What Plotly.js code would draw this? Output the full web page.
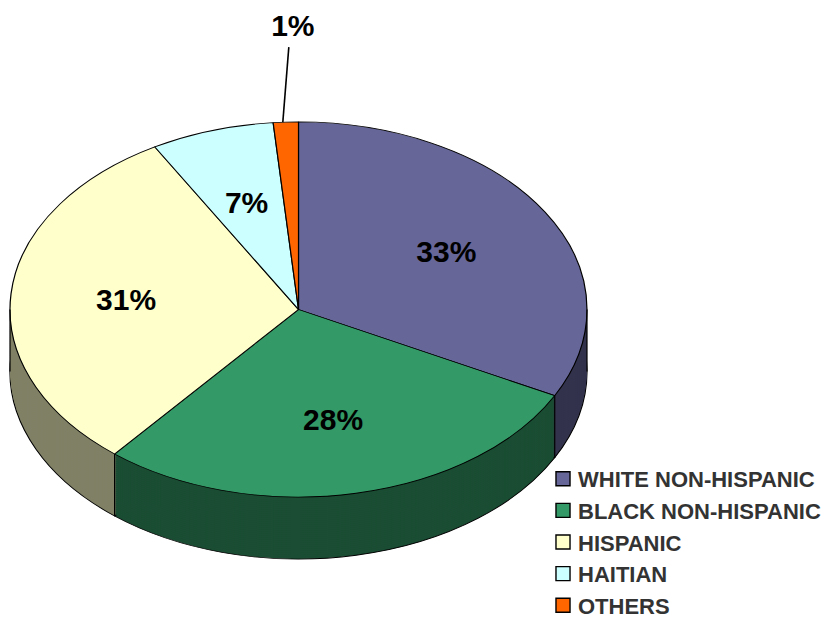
<!DOCTYPE html>
<html><head><meta charset="utf-8">
<script src="https://cdn.plot.ly/plotly-3.0.1.min.js"></script>
<style>html,body{margin:0;padding:0;background:#fff;overflow:hidden}#chart{width:825px;height:618px}</style>
</head><body><div id="chart"></div>
<script>
// ---- data ----
const labels = ['WHITE NON-HISPANIC', 'BLACK NON-HISPANIC', 'HISPANIC', 'HAITIAN', 'OTHERS'];
const shares = [32.6, 28.4, 30.7, 6.9, 1.4];
const topColors = ['#666699', '#339966', '#FFFFCC', '#CCFFFF', '#FF6600'];
const sideColors = ['#33334D', '#1A4D33', '#808066', '#668080', '#803300'];
const labelPlacement = ['inside', 'inside', 'inside', 'inside', 'outside'];

// ---- view settings ----
const W = 825, H = 618;
const TILT = 0.65;      // vertical squash of the pie (3-D look)
const DEPTH = 62;       // thickness of the pie edge, px on screen
const STEP = 2;         // px between edge layers
const LABEL_R = 0.6;    // inside labels at this fraction of the radius
const dom = {x: [10 / W, 587 / W], y: [1 - 598 / H, 1 - 21 / H]};

const nLayers = Math.round(DEPTH / STEP);
const data = [];
for (let k = nLayers; k >= 1; k--) {
  data.push({
    type: 'pie', labels: labels, values: shares, sort: false,
    direction: 'clockwise', rotation: 0, domain: dom,
    marker: {colors: sideColors, line: {width: k === nLayers ? 1.2 : 0, color: '#000'}},
    textinfo: 'none', hoverinfo: 'skip', showlegend: false, name: 'edge' + k
  });
}
data.push({
  type: 'pie', labels: labels, values: shares, sort: false,
  direction: 'clockwise', rotation: 0, domain: dom,
  marker: {colors: topColors, line: {width: 1.2, color: '#000'}},
  texttemplate: '%{percent:.0%}', textposition: 'inside',
  insidetextorientation: 'horizontal',
  textfont: {family: 'Arial', size: 30, color: '#000', weight: 'bold'},
  showlegend: true, name: 'top'
});

const layout = {
  width: W, height: H,
  margin: {l: 0, r: 0, t: 0, b: 0, autoexpand: false},
  paper_bgcolor: '#ffffff',
  showlegend: true,
  uniformtext: {mode: 'show', minsize: 30},
  legend: {
    x: 538 / W, xanchor: 'left', y: 1 - 458 / H, yanchor: 'top',
    font: {family: 'Arial', size: 22, color: '#333333', weight: 'bold'},
    bgcolor: 'rgba(0,0,0,0)', traceorder: 'normal'
  }
};

Plotly.newPlot('chart', data, layout, {staticPlot: true, displayModeBar: false}).then(function (gd) {
  const ns = 'http://www.w3.org/2000/svg';
  const pielayer = gd._fullLayout._pielayer.node();
  const traces = pielayer.querySelectorAll(':scope > g.trace');
  const cd = gd.calcdata[gd.calcdata.length - 1];
  const cx = cd[0].cx, cy = cd[0].cy, r = cd[0].r;
  const base = gd.getBoundingClientRect();
  const topTrace = traces[traces.length - 1];

  // measure and place labels (before any transforms)
  const moves = [];
  let leader = null;
  topTrace.querySelectorAll('g.slice').forEach(function (sl) {
    const pt = sl.__data__;
    const st = sl.querySelector('g.slicetext');
    if (!st || !pt) return;
    const t = st.querySelector('text');
    if (!t) return;
    const b = t.getBoundingClientRect();
    const xc = b.left - base.left + b.width / 2;
    const yc = b.top - base.top + b.height / 2;
    const a = pt.midangle;
    let X, Y;
    if (labelPlacement[pt.i] === 'outside') {
      const ax = cx + r * Math.sin(a), ay = cy - TILT * r * Math.cos(a);
      X = ax + 7; Y = ay - 97;
      leader = [ax + 3, ay - 75, ax - 3, ay];
    } else {
      X = cx + LABEL_R * r * Math.sin(a);
      Y = cy - TILT * LABEL_R * r * Math.cos(a);
    }
    moves.push([st, X, Y, xc, yc]);
  });

  pielayer.setAttribute('transform', 'translate(0,' + cy + ') scale(1,' + TILT + ') translate(0,' + (-cy) + ')');
  for (let i = 0; i < traces.length - 1; i++) {
    const k = nLayers - i;
    traces[i].setAttribute('transform', 'translate(0,' + (k * STEP / TILT) + ')');
  }
  moves.forEach(function (m) {
    const Yp = cy + (m[2] - cy) / TILT;
    m[0].setAttribute('transform', 'translate(' + m[1] + ',' + Yp + ') scale(1,' + (1 / TILT) + ') translate(' + (-m[3]) + ',' + (-m[4]) + ')');
  });

  // edge lines of the pie side: slice boundaries on the front half, plus both ends
  const svg = gd.querySelector('.main-svg');
  const g = document.createElementNS(ns, 'g');
  svg.appendChild(g);
  function addPath(d, w) {
    const p = document.createElementNS(ns, 'path');
    p.setAttribute('d', d);
    p.setAttribute('stroke', '#000');
    p.setAttribute('stroke-width', w);
    p.setAttribute('fill', 'none');
    g.appendChild(p);
  }
  const edgeAngles = [Math.PI / 2, 3 * Math.PI / 2];
  cd.forEach(function (pt) {
    const a = ((pt.startangle % (2 * Math.PI)) + 2 * Math.PI) % (2 * Math.PI);
    if (a > Math.PI / 2 && a < 3 * Math.PI / 2) edgeAngles.push(a);
  });
  edgeAngles.forEach(function (a) {
    const x = cx + r * Math.sin(a), y = cy - TILT * r * Math.cos(a);
    addPath('M' + x + ',' + y + 'V' + (y + DEPTH), 1.2);
  });
  if (leader) addPath('M' + leader[0] + ',' + leader[1] + 'L' + leader[2] + ',' + leader[3], 1.6);

  // legend swatches slightly larger, as in the reference
  gd.querySelectorAll('.legend path.legendpie').forEach(function (p) {
    p.setAttribute('transform', 'translate(25,0) scale(1.17)');
  });
});
</script>
</body></html>
